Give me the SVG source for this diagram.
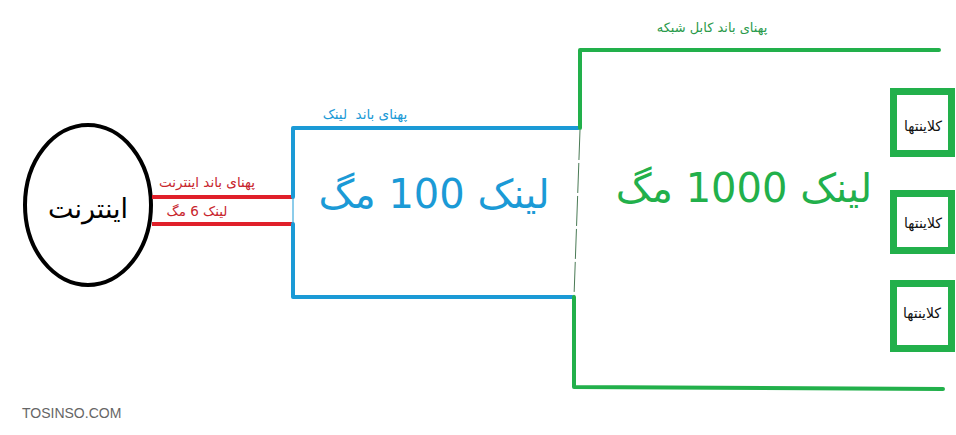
<svg xmlns="http://www.w3.org/2000/svg" width="956" height="435" viewBox="0 0 956 435">
<style>
.fa{font-family:"DejaVu Sans","Noto Sans",sans-serif;direction:rtl;text-anchor:middle}
.blue{stroke:#1b9ad6;stroke-width:4;fill:none;stroke-linecap:round;stroke-linejoin:round}
.green{stroke:#22b04b;stroke-width:4;fill:none;stroke-linecap:round;stroke-linejoin:round}
.red{stroke:#e0202a;stroke-width:4;fill:none}
.client rect{fill:#fff;stroke:#22b04b;stroke-width:7}
.client text{font-size:14px;fill:#111}
</style>
<rect width="956" height="435" fill="#fff"/>
<g id="internet">
<ellipse cx="88" cy="205" rx="63" ry="80" fill="#fff" stroke="#000" stroke-width="4"/>
<text class="fa" x="88" y="218" font-size="27" fill="#000">اینترنت</text>
</g>
<g id="connectors">
<line class="red" x1="152" y1="197" x2="292" y2="197"/>
<line class="red" x1="152" y1="224" x2="292" y2="224"/>
<text class="fa" x="207" y="187" font-size="13.5" fill="#c8252d">پهنای باند اینترنت</text>
<text class="fa" x="197" y="216" font-size="13.5" fill="#c8252d">لینک 6 مگ</text>
</g>
<g id="link100">
<polyline class="blue" points="578,128 293,128 293,197"/>
<line x1="293" y1="197" x2="293" y2="224" stroke="#1b9ad6" stroke-width="1"/>
<polyline class="blue" points="293,224 293,297 572,297"/>
<text class="fa" x="365" y="119" font-size="13.5" fill="#1b9ad6" xml:space="preserve">پهنای باند  لینک</text>
<text class="fa" x="434" y="208" font-size="40" fill="#1b9ad6">لینک 100 مگ</text>
</g>
<g id="link1000">
<polyline class="green" points="580,128 580,50 939,50"/>
<line x1="580" y1="130" x2="574" y2="297" stroke="#4a7a55" stroke-width="1" stroke-dasharray="30,3"/>
<polyline class="green" points="574,297 574,387 943,389"/>
<text class="fa" x="712" y="32" font-size="13" fill="#2a9a4a">پهنای باند کابل شبکه</text>
<text class="fa" x="744" y="202" font-size="40" fill="#22b04b">لینک 1000 مگ</text>
</g>
<g id="client1" class="client">
<rect x="893.5" y="91.5" width="58" height="62"/>
<text class="fa" x="923" y="131">کلاینتها</text>
</g>
<g id="client2" class="client">
<rect x="893.5" y="193.5" width="58" height="57"/>
<text class="fa" x="923" y="228">کلاینتها</text>
</g>
<g id="client3" class="client">
<rect x="893.5" y="283.5" width="58" height="65"/>
<text class="fa" x="922" y="318">کلاینتها</text>
</g>
<text x="22" y="418" font-family="Liberation Sans,Arial,sans-serif" font-size="14" fill="#666">TOSINSO.COM</text>
</svg>
